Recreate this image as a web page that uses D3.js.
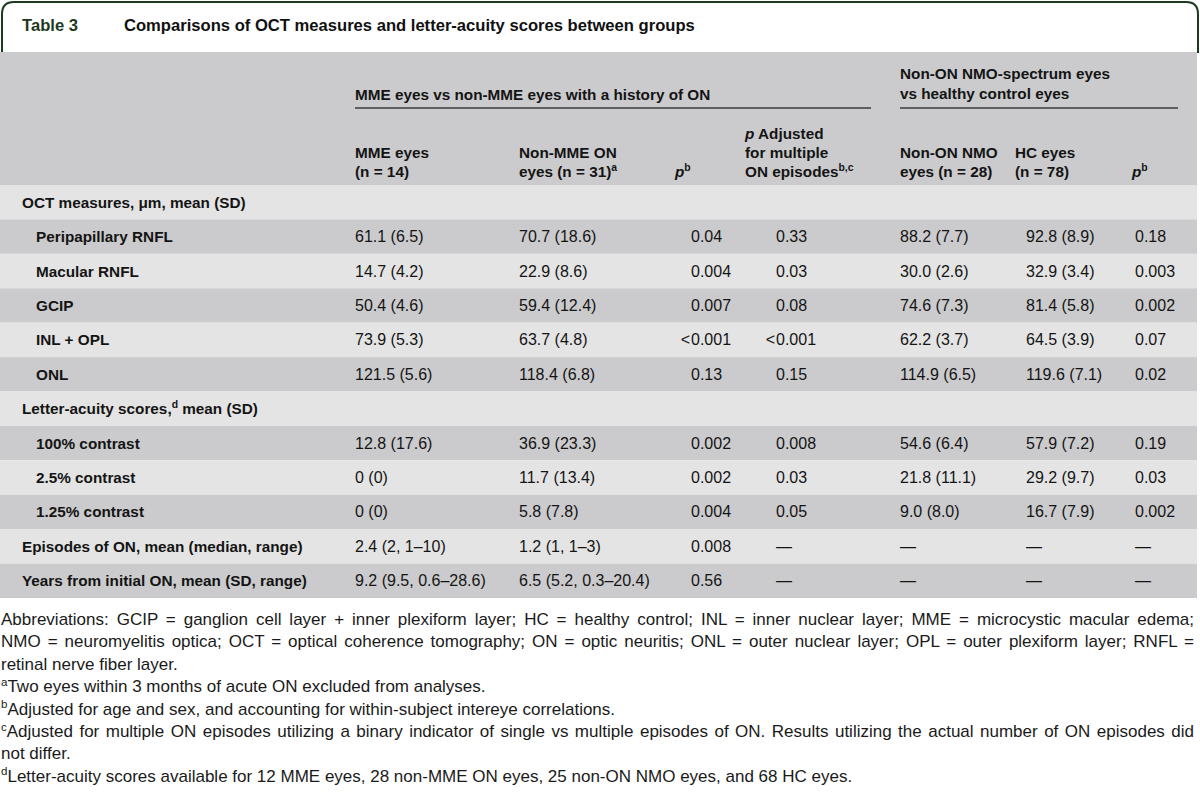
<!DOCTYPE html>
<html><head><meta charset="utf-8">
<script src="https://cdn.jsdelivr.net/npm/d3@7"></script>
<style>
body{margin:0;background:#fff}
svg{display:block}
text{font-family:"Liberation Sans",Arial,sans-serif}
</style>
</head><body>
<svg id="chart" width="1200" height="795"></svg>
<script>
// ---------- DATA ----------
const tableNumber = "Table 3";
const tableTitle = "Comparisons of OCT measures and letter-acuity scores between groups";
const groupHeaders = [
  ["MME eyes vs non-MME eyes with a history of ON"],
  ["Non-ON NMO-spectrum eyes", "vs healthy control eyes"]
];
const columnHeaders = [
  ["MME eyes", "(n = 14)"],
  ["Non-MME ON", "eyes (n = 31)^a^"],
  ["*p*^b^"],
  ["*p* Adjusted", "for multiple", "ON episodes^b,c^"],
  ["Non-ON NMO", "eyes (n = 28)"],
  ["HC eyes", "(n = 78)"],
  ["*p*^b^"]
];
const rowLabels = [
  "OCT measures, μm, mean (SD)",
  "Peripapillary RNFL",
  "Macular RNFL",
  "GCIP",
  "INL + OPL",
  "ONL",
  "Letter-acuity scores,^d^ mean (SD)",
  "100% contrast",
  "2.5% contrast",
  "1.25% contrast",
  "Episodes of ON, mean (median, range)",
  "Years from initial ON, mean (SD, range)"
];
const rowIndented = [false, true, true, true, true, true, false, true, true, true, false, false];
const mmeEyes   = ["", "61.1 (6.5)", "14.7 (4.2)", "50.4 (4.6)", "73.9 (5.3)", "121.5 (5.6)", "", "12.8 (17.6)", "0 (0)", "0 (0)", "2.4 (2, 1–10)", "9.2 (9.5, 0.6–28.6)"];
const nonMmeOn  = ["", "70.7 (18.6)", "22.9 (8.6)", "59.4 (12.4)", "63.7 (4.8)", "118.4 (6.8)", "", "36.9 (23.3)", "11.7 (13.4)", "5.8 (7.8)", "1.2 (1, 1–3)", "6.5 (5.2, 0.3–20.4)"];
const pMme      = ["", "0.04", "0.004", "0.007", "<0.001", "0.13", "", "0.002", "0.002", "0.004", "0.008", "0.56"];
const pAdjusted = ["", "0.33", "0.03", "0.08", "<0.001", "0.15", "", "0.008", "0.03", "0.05", "—", "—"];
const nonOnNmo  = ["", "88.2 (7.7)", "30.0 (2.6)", "74.6 (7.3)", "62.2 (3.7)", "114.9 (6.5)", "", "54.6 (6.4)", "21.8 (11.1)", "9.0 (8.0)", "—", "—"];
const hcEyes    = ["", "92.8 (8.9)", "32.9 (3.4)", "81.4 (5.8)", "64.5 (3.9)", "119.6 (7.1)", "", "57.9 (7.2)", "29.2 (9.7)", "16.7 (7.9)", "—", "—"];
const pNmo      = ["", "0.18", "0.003", "0.002", "0.07", "0.02", "", "0.19", "0.03", "0.002", "—", "—"];
const footnotes = [
  {text: "Abbreviations: GCIP = ganglion cell layer + inner plexiform layer; HC = healthy control; INL = inner nuclear layer; MME = microcystic macular edema;", justify: true},
  {text: "NMO = neuromyelitis optica; OCT = optical coherence tomography; ON = optic neuritis; ONL = outer nuclear layer; OPL = outer plexiform layer; RNFL =", justify: true},
  {text: "retinal nerve fiber layer.", justify: false},
  {text: "^a^Two eyes within 3 months of acute ON excluded from analyses.", justify: false},
  {text: "^b^Adjusted for age and sex, and accounting for within-subject intereye correlations.", justify: false},
  {text: "^c^Adjusted for multiple ON episodes utilizing a binary indicator of single vs multiple episodes of ON. Results utilizing the actual number of ON episodes did", justify: true},
  {text: "not differ.", justify: false},
  {text: "^d^Letter-acuity scores available for 12 MME eyes, 28 non-MME ON eyes, 25 non-ON NMO eyes, and 68 HC eyes.", justify: false}
];
const dataColumns = [mmeEyes, nonMmeOn, pMme, pAdjusted, nonOnNmo, hcEyes, pNmo];

// ---------- LAYOUT ----------
const W = 1200;
const frameColor = "#1d3a21";
const headerFill = "#cbcbcd";
const rowFills = ["#e4e4e4", "#cbcbcd"];
const textColor = "#141414";
const headerX = [355, 519, 675, 745, 900, 1015, 1132];
const dataX   = [355, 519, 691, 776, 900, 1026, 1135];
const labelFont = 15.3, valueFont = 16, noteFont = 17;

const svg = d3.select("#chart");

// rich text helper: *italic*, ^superscript^
function rich(sel, str, size) {
  const parts = str.split(/(\*[^*]+\*|\^[^^]+\^)/).filter(s => s.length);
  let raised = false;
  parts.forEach(p => {
    const t = sel.append("tspan");
    if (p.startsWith("^")) {
      t.text(p.slice(1, -1)).attr("font-size", size * 0.68).attr("dy", -size * 0.38);
      raised = true;
    } else {
      if (raised) { t.attr("dy", size * 0.38); raised = false; }
      if (p.startsWith("*")) t.text(p.slice(1, -1)).attr("font-style", "italic");
      else t.text(p);
    }
  });
  return sel;
}

// frame around title
svg.append("path")
  .attr("d", "M2,53 L2,14 Q2,2 14,2 L1186,2 Q1198,2 1198,14 L1198,53")
  .attr("fill", "none").attr("stroke", frameColor).attr("stroke-width", 2);

svg.append("text").attr("x", 22).attr("y", 31).attr("font-size", 16.6)
  .attr("font-weight", "bold").attr("fill", frameColor).text(tableNumber);
svg.append("text").attr("x", 124).attr("y", 31).attr("font-size", 16.6)
  .attr("font-weight", "bold").attr("fill", "#111").text(tableTitle);

// header band
const headerTop = 52, headerBottom = 185, tableBottom = 598;
svg.append("rect").attr("x", 0).attr("y", headerTop).attr("width", 1197)
  .attr("height", headerBottom - headerTop).attr("fill", headerFill);

// row scale
const y = d3.scaleBand().domain(d3.range(rowLabels.length)).range([headerBottom, tableBottom]).padding(0);

svg.append("g").selectAll("rect").data(rowLabels).join("rect")
  .attr("x", 0).attr("width", 1197)
  .attr("y", (d, i) => y(i)).attr("height", y.bandwidth())
  .attr("fill", (d, i) => rowFills[i % 2]);

// group headers
const groupSpans = [[headerX[0], 871], [headerX[4], 1178]];
svg.append("text").attr("x", groupSpans[0][0]).attr("y", 100).attr("font-size", labelFont)
  .attr("font-weight", "bold").attr("fill", textColor).text(groupHeaders[0][0]);
groupHeaders[1].forEach((line, k) => {
  svg.append("text").attr("x", groupSpans[1][0]).attr("y", 79 + k * 19.5).attr("font-size", labelFont)
    .attr("font-weight", "bold").attr("fill", textColor).text(line);
});
groupSpans.forEach(s => {
  svg.append("line").attr("x1", s[0]).attr("x2", s[1]).attr("y1", 108).attr("y2", 108)
    .attr("stroke", "#5e5e5e").attr("stroke-width", 2);
});

// column headers (bottom aligned)
const headerBaseline = 177, headerLineGap = 19;
columnHeaders.forEach((lines, c) => {
  lines.forEach((line, k) => {
    const t = svg.append("text").attr("x", headerX[c])
      .attr("y", headerBaseline - (lines.length - 1 - k) * headerLineGap)
      .attr("font-size", labelFont).attr("font-weight", "bold").attr("fill", textColor);
    rich(t, line, labelFont);
  });
});

// row labels
rowLabels.forEach((lab, i) => {
  const t = svg.append("text").attr("x", rowIndented[i] ? 36 : 22)
    .attr("y", y(i) + y.bandwidth() / 2 + 5.5)
    .attr("font-size", labelFont).attr("font-weight", "bold").attr("fill", textColor);
  rich(t, lab, labelFont);
});

// data cells
dataColumns.forEach((col, c) => {
  col.forEach((v, i) => {
    if (!v) return;
    const yy = y(i) + y.bandwidth() / 2 + 5.5;
    if (v.startsWith("<")) {
      svg.append("text").attr("x", dataX[c] - 1).attr("y", yy).attr("text-anchor", "end")
        .attr("font-size", valueFont).attr("fill", textColor).text("<");
      svg.append("text").attr("x", dataX[c]).attr("y", yy)
        .attr("font-size", valueFont).attr("fill", textColor).text(v.slice(1));
    } else {
      svg.append("text").attr("x", dataX[c]).attr("y", yy)
        .attr("font-size", valueFont).attr("fill", textColor).text(v);
    }
  });
});

// footnotes
const noteTop = 625, noteGap = 22.4, noteWidth = 1193;
footnotes.forEach((f, i) => {
  const t = svg.append("text").attr("x", 1).attr("y", noteTop + i * noteGap)
    .attr("font-size", noteFont).attr("fill", "#1a1a1a");
  rich(t, f.text, noteFont);
  if (f.justify) {
    const len = t.node().getComputedTextLength();
    const spaces = (f.text.match(/ /g) || []).length;
    if (spaces > 0 && len < noteWidth) t.attr("word-spacing", (noteWidth - len) / spaces);
  }
});
</script>
</body></html>
